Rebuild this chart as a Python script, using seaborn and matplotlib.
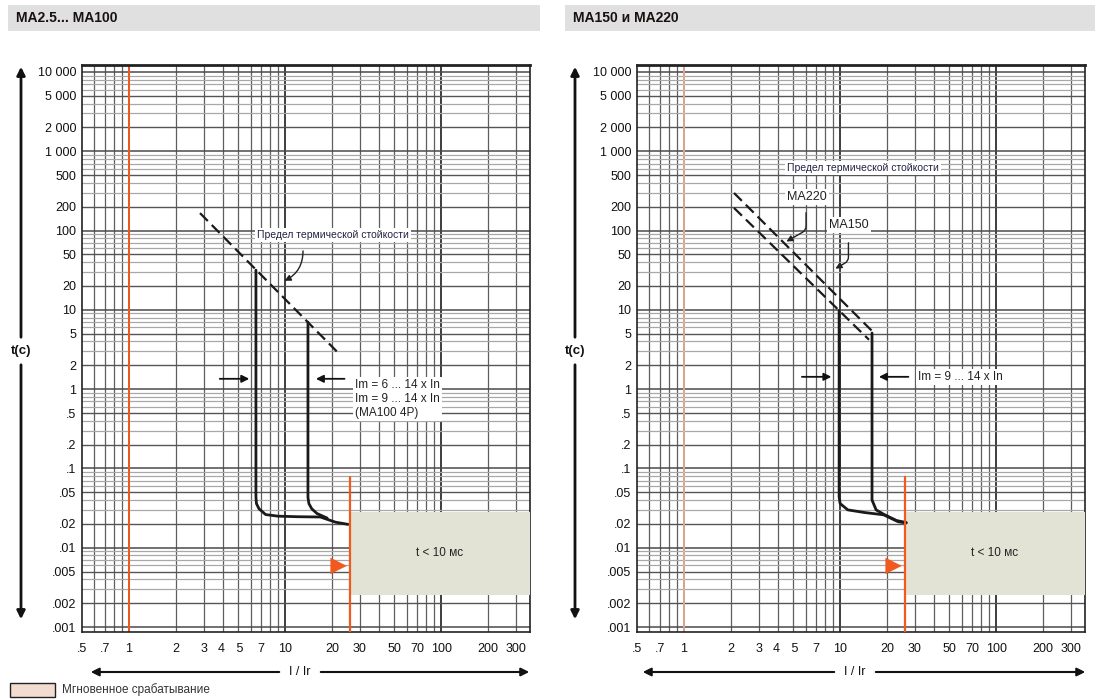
import numpy as np
import pandas as pd
import matplotlib
matplotlib.use("Agg")
import matplotlib.pyplot as plt
import seaborn as sns
from matplotlib.patches import Rectangle, FancyArrowPatch

sns.set_theme(style="white")
plt.rcParams['font.family'] = ['Liberation Sans', 'DejaVu Sans']

# ---------------- data ----------------
x_ticks = [0.5, 0.7, 1, 2, 3, 4, 5, 7, 10, 20, 30, 50, 70, 100, 200, 300]
x_labels = ['.5', '.7', '1', '2', '3', '4 ', ' 5', '7', '10', '20', '30', '50', '70', '100', '200', '300']
y_ticks = [10000, 5000, 2000, 1000, 500, 200, 100, 50, 20, 10, 5, 2, 1, .5, .2, .1,
           .05, .02, .01, .005, .002, .001]
y_labels = ['10 000', '5 000', '2 000', '1 000', '500', '200', '100', '50', '20', '10', '5',
            '2', '1', '.5', '.2', '.1', '.05', '.02', '.01', '.005', '.002', '.001']

# left panel: MA2.5 ... MA100
left_thermal_x = [2.85, 21.9]
left_thermal_t = [166, 2.86]
left_c1_x = [6.5, 6.5, 6.55, 6.8, 7.5, 9.0, 12.0, 16.8, 21.0, 25.3]
left_c1_t = [31.7, 0.044, 0.036, 0.031, 0.0262, 0.0250, 0.0246, 0.0244, 0.021, 0.0197]
left_c2_x = [14.0, 14.0, 14.2, 14.8, 16.0, 18.6]
left_c2_t = [7.0, 0.043, 0.036, 0.031, 0.027, 0.0236]

# right panel: MA150 and MA220
right_thermal_a_x = [2.09, 16.5]     # MA220
right_thermal_a_t = [298, 5.1]
right_thermal_b_x = [2.09, 15.3]     # MA150
right_thermal_b_t = [193, 4.2]
right_c1_x = [9.85, 9.85, 10.0, 11.2, 14.3, 19.0, 23.5, 26.5]
right_c1_t = [9.8, 0.0437, 0.036, 0.030, 0.0278, 0.026, 0.0213, 0.0205]
right_c2_x = [16.0, 16.0, 17.0, 19.1, 23.0, 26.5]
right_c2_t = [5.1, 0.040, 0.030, 0.0263, 0.022, 0.0208]

inst_x = 26.0          # start of instantaneous zone (I/Ir)
inst_t_top = 0.0283
inst_t_bot = 0.00254
orange_top = 0.077
tri_x, tri_t = 22.0, 0.0059

XLIM = (0.5, 370)
YLIM = (0.000865, 12250)

W, H = 1099, 699
fig = plt.figure(figsize=(W / 100, H / 100), dpi=100)
fig.patch.set_facecolor('white')

def fx(px):
    return px / W

def fy(py):
    return 1 - py / H

ORANGE = '#f05a1e'
BOX = '#e3e3d5'


def draw_grid(ax):
    for d in range(-1, 3):
        for m in range(1, 10):
            v = m * 10.0 ** d
            if XLIM[0] < v < XLIM[1]:
                if m == 1:
                    ax.axvline(v, color='#2e2e2e', lw=1.3, zorder=1)
                else:
                    ax.axvline(v, color='#5e5e5e', lw=0.9, zorder=1)
    for d in range(-3, 5):
        for m in range(1, 10):
            v = m * 10.0 ** d
            if YLIM[0] < v < YLIM[1]:
                if m == 1:
                    ax.axhline(v, color='#4a4a4a', lw=1.1, zorder=1)
                elif m in (2, 5):
                    ax.axhline(v, color='#555555', lw=1.0, zorder=1)
                else:
                    ax.axhline(v, color='#a8a8a8', lw=0.9, zorder=1)


def setup(ax):
    ax.set_xscale('log')
    ax.set_yscale('log')
    ax.set_xlim(*XLIM)
    ax.set_ylim(*YLIM)
    for s in ax.spines.values():
        s.set_color('#222222')
        s.set_linewidth(1.2)
    ax.spines['top'].set_linewidth(2.0)
    draw_grid(ax)


def finish(ax):
    ax.set_xlim(*XLIM)
    ax.set_ylim(*YLIM)
    ax.set_xticks(x_ticks)
    ax.set_xticklabels(x_labels, fontsize=9)
    ax.set_yticks(y_ticks)
    ax.set_yticklabels(y_labels, fontsize=9)
    ax.xaxis.set_minor_locator(matplotlib.ticker.NullLocator())
    ax.yaxis.set_minor_locator(matplotlib.ticker.NullLocator())
    ax.tick_params(axis='both', length=0, colors='#111111')
    ax.tick_params(axis='x', pad=8)
    ax.tick_params(axis='y', pad=4)
    ax.set_xlabel('')
    ax.set_ylabel('')


def curve(ax, xs, ts, dashed=False, lw=2.0):
    df = pd.DataFrame({'x': xs, 't': ts})
    sns.lineplot(data=df, x='x', y='t', ax=ax, sort=False, estimator=None,
                 color='#1a1a1a', lw=lw, linestyle=(0, (5, 2.5)) if dashed else '-',
                 zorder=5)


def inst_zone(ax, x_one_color, x_one_lw):
    ax.axvline(1, color=x_one_color, lw=x_one_lw, zorder=2)
    ax.add_patch(Rectangle((inst_x, inst_t_bot), XLIM[1] - inst_x, inst_t_top - inst_t_bot,
                           facecolor=BOX, edgecolor='none', zorder=4))
    ax.plot([inst_x, inst_x], [YLIM[0], orange_top], color=ORANGE, lw=1.6, zorder=6)
    ax.scatter([tri_x], [tri_t], marker='>', s=140, color=ORANGE, zorder=7, edgecolors='none')
    xc = np.sqrt(inst_x * XLIM[1])
    tc = np.sqrt(inst_t_top * inst_t_bot)
    ax.text(xc, tc, 't < 10 мс', ha='center', va='center', fontsize=8.5, color='#222222', zorder=8)


def im_arrows(ax, t, x_l0, x_l1, x_r0, x_r1):
    for a, b in ((x_l0, x_l1), (x_r0, x_r1)):
        ax.annotate('', xy=(b, t), xytext=(a, t),
                    arrowprops=dict(arrowstyle='-|>', color='#111111', lw=1.3,
                                    mutation_scale=11), zorder=8)

bbox_w = dict(facecolor='white', edgecolor='none', pad=1.5)

# ---------------- left panel ----------------
axL = fig.add_axes([fx(82), fy(632), fx(530) - fx(82), fy(65) - fy(632)])
setup(axL)
inst_zone(axL, ORANGE, 1.4)
curve(axL, left_thermal_x, left_thermal_t, dashed=True, lw=1.6)
curve(axL, left_c1_x, left_c1_t)
curve(axL, left_c2_x, left_c2_t)
axL.text(20.3, 88, 'Предел термической стойкости', ha='center', va='center', fontsize=7.5,
         color='#222244', bbox=bbox_w, zorder=9)
axL.annotate('', xy=(9.55, 22.5), xytext=(13.0, 60),
             arrowprops=dict(arrowstyle='-|>', color='#222222', lw=1.0, mutation_scale=9,
                             connectionstyle='arc3,rad=-0.35'), zorder=9)
im_arrows(axL, 1.35, 3.66, 6.14, 25.0, 15.1)
axL.text(28.1, 1.35, 'Im = 6 ... 14 x In\nIm = 9 ... 14 x In\n(MA100 4P)', ha='left', va='top',
         fontsize=8.5, color='#222222', linespacing=1.25, bbox=bbox_w, zorder=9)
finish(axL)

# ---------------- right panel ----------------
axR = fig.add_axes([fx(637), fy(632), fx(1085) - fx(637), fy(65) - fy(632)])
setup(axR)
inst_zone(axR, '#f4b9a0', 1.2)
curve(axR, right_thermal_a_x, right_thermal_a_t, dashed=True, lw=1.6)
curve(axR, right_thermal_b_x, right_thermal_b_t, dashed=True, lw=1.6)
curve(axR, right_c1_x, right_c1_t)
curve(axR, right_c2_x, right_c2_t)
axR.text(14.0, 614, 'Предел термической стойкости', ha='center', va='center', fontsize=7.5,
         color='#222244', bbox=bbox_w, zorder=9)
axR.text(6.1, 265, 'MA220', ha='center', va='center', fontsize=9, color='#222222',
         bbox=bbox_w, zorder=9)
axR.text(11.4, 117, 'MA150', ha='center', va='center', fontsize=9, color='#222222',
         bbox=bbox_w, zorder=9)
axR.annotate('', xy=(4.37, 69.8), xytext=(6.05, 182),
             arrowprops=dict(arrowstyle='-|>', color='#222222', lw=1.0, mutation_scale=9,
                             connectionstyle='angle,angleA=90,angleB=30,rad=4'), zorder=9)
axR.annotate('', xy=(9.0, 31.8), xytext=(11.3, 76),
             arrowprops=dict(arrowstyle='-|>', color='#222222', lw=1.0, mutation_scale=9,
                             connectionstyle='angle,angleA=90,angleB=30,rad=4'), zorder=9)
im_arrows(axR, 1.43, 5.46, 9.16, 28.5, 17.0)
axR.text(31.6, 1.43, 'Im = 9 ... 14 x In', ha='left', va='center', fontsize=8.5,
         color='#222222', bbox=bbox_w, zorder=9)
finish(axR)

# ---------------- figure decorations ----------------
for (x0, x1, title) in ((8, 540, 'MA2.5... MA100'), (565, 1095, 'MA150 и MA220')):
    fig.add_artist(Rectangle((fx(x0), fy(31)), fx(x1) - fx(x0), fy(5) - fy(31),
                             transform=fig.transFigure, facecolor='#e0e0e0',
                             edgecolor='none', zorder=0))
    fig.text(fx(x0 + 8), fy(18), title, ha='left', va='center', fontsize=10,
             fontweight='bold', color='#1a1010')


def fig_arrow(p0, p1, lw, ms):
    fig.add_artist(FancyArrowPatch((fx(p0[0]), fy(p0[1])), (fx(p1[0]), fy(p1[1])),
                                   transform=fig.transFigure, arrowstyle='-|>',
                                   mutation_scale=ms, lw=lw, color='#111111'))


for (xa, xl0, xl1, xlab) in ((21, 88, 532, 300), (575, 640, 1088, 855)):
    # vertical time arrow, split around the "t(c)" label
    fig_arrow((xa, 340), (xa, 64), 2.0, 12)
    fig_arrow((xa, 362), (xa, 622), 2.0, 12)
    fig.text(fx(xa), fy(351), 't(c)', ha='center', va='center', fontsize=9.5,
             fontweight='bold', color='#111111', zorder=10)
    # horizontal current arrow, split around the "I / Ir" label
    fig_arrow((xlab - 18, 672), (xl0, 672), 1.5, 12)
    fig_arrow((xlab + 18, 672), (xl1, 672), 1.5, 12)
    fig.text(fx(xlab), fy(672), 'I / Ir', ha='center', va='center', fontsize=9,
             color='#111111', zorder=10)

fig.add_artist(Rectangle((fx(10), fy(697)), fx(55) - fx(10), fy(683) - fy(697),
                         transform=fig.transFigure, facecolor='#f2dccf',
                         edgecolor='#222222', lw=1.0))
fig.text(fx(62), fy(690), 'Мгновенное срабатывание', ha='left', va='center', fontsize=8.5,
         color='#333333')

fig.savefig('out.png', dpi=100, facecolor='white')
